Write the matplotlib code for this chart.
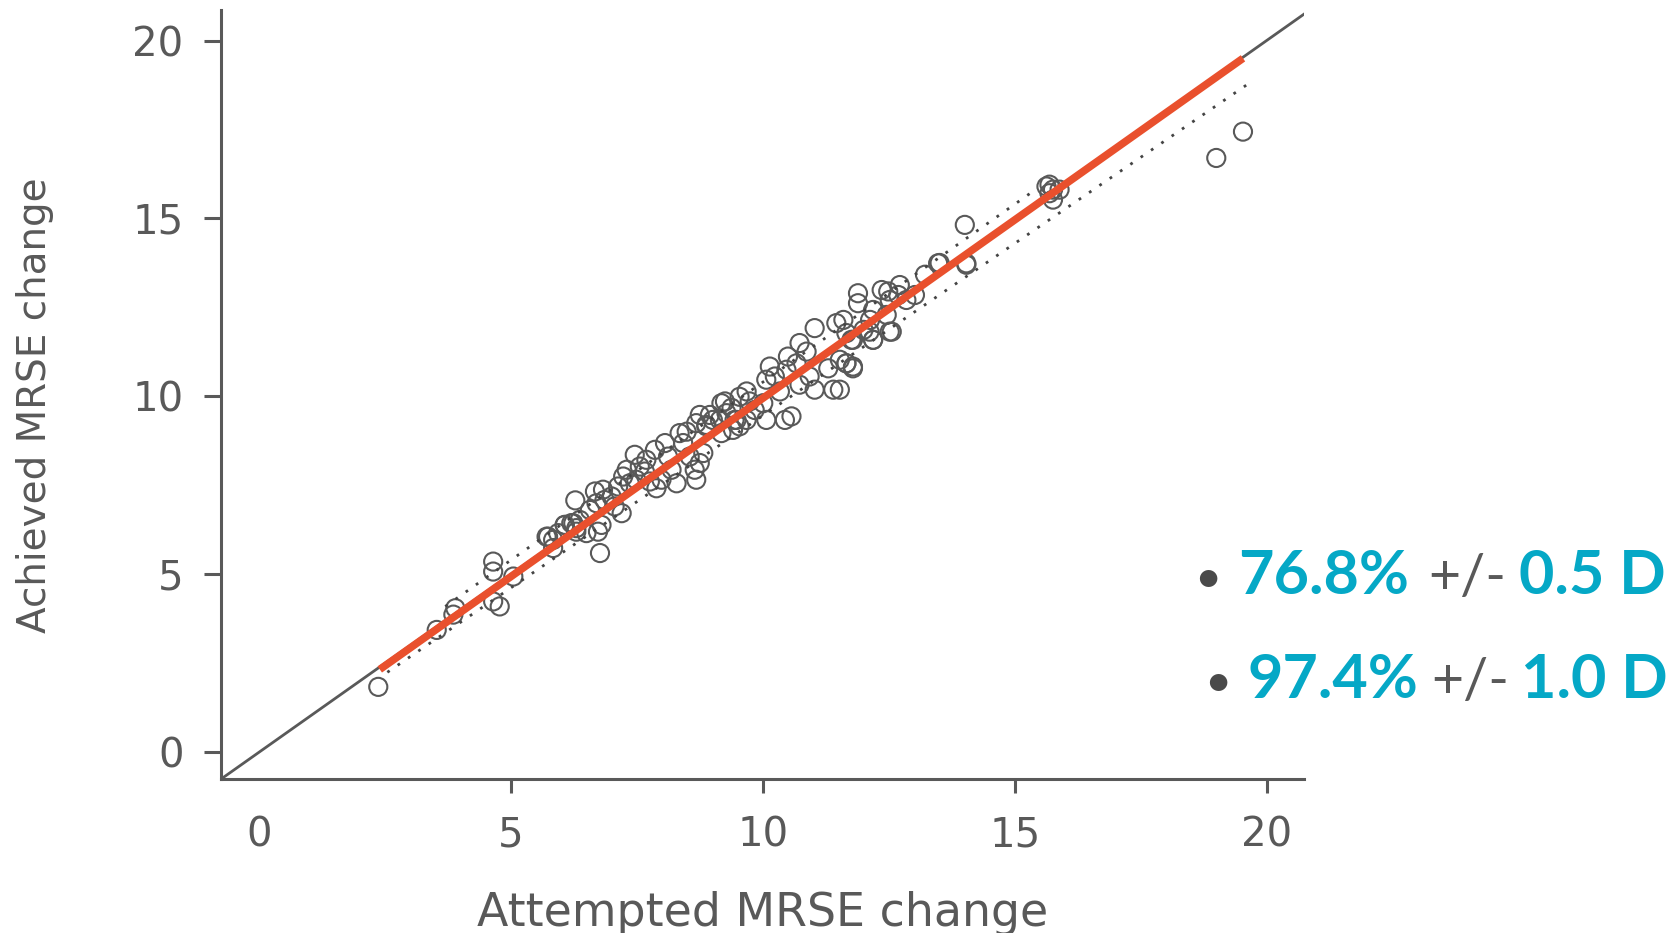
import matplotlib
matplotlib.use("Agg")
import matplotlib.pyplot as plt

# attempted vs achieved MRSE change (D)
attempted = [
    2.37, 3.53, 3.86, 3.90, 4.65, 4.65, 4.65, 4.78, 5.05, 5.74, 5.84, 6.07, 6.24, 6.30, 6.28,
    6.77, 5.71, 5.84, 5.94, 6.07, 6.20, 6.37, 6.30, 6.50, 6.73, 6.80, 6.57, 6.70, 6.86, 6.67,
    6.83, 7.00, 7.06, 7.20, 7.13, 7.23, 7.30, 7.36, 7.49, 7.46, 7.56, 7.69, 7.66, 7.76, 7.89,
    7.99, 7.86, 8.06, 8.12, 8.19, 8.29, 8.35, 8.49, 8.42, 8.55, 8.65, 8.68, 8.68, 8.75, 8.88,
    9.01, 9.18, 9.18, 9.28, 9.41, 9.48,
    11.03, 11.46, 10.73, 10.87, 10.50, 10.14, 10.24, 10.07, 10.47, 10.67, 10.93, 10.73, 11.03,
    11.40, 11.30, 11.53, 11.66, 11.79, 11.76, 12.19, 12.52, 12.12, 9.68, 9.54, 9.74, 9.25,
    9.38, 8.95, 9.15, 8.88, 9.44, 9.54, 9.68, 10.07, 10.44, 10.57, 9.84, 10.01, 10.34, 8.82, 8.75,
    11.89, 11.89, 12.36, 12.49, 12.72, 12.69, 12.85, 13.02, 12.52, 12.19, 12.13, 12.46, 12.56,
    12.19, 11.66, 11.60, 11.79, 11.66, 11.79, 11.53, 13.22, 13.48, 14.04, 12.00,
    14.01, 14.04, 13.51, 15.69, 15.76, 15.89, 15.76, 15.69, 15.63,
    19.00, 19.53,
]
achieved = [
    1.84, 3.44, 3.87, 4.05, 5.36, 5.08, 4.24, 4.10, 4.94, 6.06, 5.74, 6.39, 6.44, 6.30, 7.08,
    5.60, 6.06, 5.97, 6.16, 6.39, 6.44, 6.53, 6.20, 6.16, 6.20, 6.39, 6.81, 7.00, 7.09, 7.33,
    7.38, 7.19, 6.91, 6.72, 7.47, 7.75, 7.94, 7.56, 7.66, 8.36, 8.03, 8.22, 7.89, 7.61, 7.42,
    7.66, 8.50, 8.69, 8.31, 7.94, 7.56, 8.97, 9.01, 8.69, 8.31, 7.94, 7.66, 9.25, 9.48, 9.20,
    9.34, 9.81, 8.97, 9.53, 9.06, 9.34,
    11.92, 12.06, 11.50, 11.26, 11.12, 10.84, 10.56, 10.47, 10.75, 10.93, 10.56, 10.33, 10.19,
    10.19, 10.79, 11.03, 10.93, 10.79, 11.59, 11.59, 11.82, 11.82, 10.14, 9.99, 9.86, 9.86,
    9.68, 9.48, 9.34, 9.16, 9.34, 9.16, 9.34, 9.34, 9.34, 9.44, 9.62, 9.81, 10.14, 8.41, 8.13,
    12.90, 12.62, 12.99, 12.95, 13.13, 12.85, 12.71, 12.85, 12.71, 12.43, 12.15, 12.29, 11.82,
    11.59, 11.78, 12.15, 11.59, 10.93, 10.84, 10.19, 13.42, 13.74, 13.74, 11.87,
    14.82, 13.70, 13.75, 15.95, 15.81, 15.81, 15.53, 15.71, 15.90,
    16.70, 17.44,
]

# fitted line and the two dotted bands (end points)
fit_x = [2.4, 19.53]
fit_y = [2.33, 19.5]
upper_x = [3.7, 15.35]
upper_y = [4.1, 15.75]
lower_x = [2.55, 19.6]
lower_y = [2.25, 18.75]

ticks = [0, 5, 10, 15, 20]

gray = "#595959"
teal = "#05A8C6"
red = "#E9502D"

plt.rcParams["font.family"] = ["DejaVu Sans"]

fig = plt.figure(figsize=(16.81, 9.33), dpi=100)
ax = fig.add_axes([0.1315, 0.165, 0.6445, 0.824])

lim_lo, lim_hi = -0.75, 20.75
ax.plot([lim_lo, lim_hi], [lim_lo, lim_hi], color=gray, lw=2.0, zorder=1)
ax.scatter(attempted, achieved, s=170, facecolors="none", edgecolors=gray,
           linewidths=1.5, zorder=2)
ax.plot(upper_x, upper_y, color="#444444", lw=2.0, ls=(0, (1, 3.5)), zorder=3)
ax.plot(lower_x, lower_y, color="#444444", lw=2.0, ls=(0, (1, 3.5)), zorder=3)
ax.plot(fit_x, fit_y, color=red, lw=5.5, solid_capstyle="butt", zorder=4)

ax.set_xlim(lim_lo, lim_hi)
ax.set_ylim(-0.75, 20.85)
ax.set_xticks(ticks)
ax.set_yticks(ticks)

for side in ["top", "right"]:
    ax.spines[side].set_visible(False)
for side in ["left", "bottom"]:
    ax.spines[side].set_color(gray)
    ax.spines[side].set_linewidth(2.2)

ax.tick_params(axis="both", colors=gray, labelsize=29, width=2.2)
ax.tick_params(axis="y", length=12, pad=15)
ax.tick_params(axis="x", length=10, pad=16)
ax.xaxis.get_major_ticks()[0].tick1line.set_visible(False)

ax.set_xlabel("Attempted MRSE change", fontsize=33, color=gray, labelpad=26)
ax.set_ylabel("Achieved MRSE change", fontsize=28, color=gray)
ax.yaxis.set_label_coords(-0.154, 0.486)

# annotation lines on the right
W, H = 1681.0, 933.0
lines = [
    (1208, 579, [(1238, "76.8%", teal, "bold", 44), (1428, "+/-", gray, "normal", 40),
                 (1519, "0.5 D", teal, "bold", 44)], 594),
    (1218, 683, [(1247, "97.4%", teal, "bold", 44), (1431, "+/-", gray, "normal", 40),
                 (1521, "1.0 D", teal, "bold", 44)], 698),
]
for bx, by, parts, base in lines:
    fig.text(bx / W, 1 - by / H, "\u2022", color="#4a4a4a", fontsize=34,
             ha="center", va="center", family="Lato")
    for px, txt, col, wt, fs in parts:
        fig.text(px / W, 1 - base / H, txt, color=col, fontsize=fs, fontweight=wt,
                 ha="left", va="baseline", family="Lato")

fig.savefig("out.png", dpi=100)
